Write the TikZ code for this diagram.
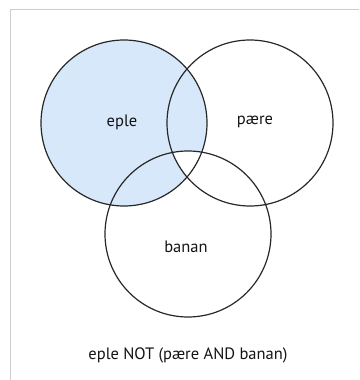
\documentclass[tikz,border=0pt]{standalone}
\usepackage{fontspec}
\setmainfont{PT Sans}
\usepackage{xcolor}
\definecolor{eplefarge}{RGB}{214,232,250}
\definecolor{strek}{RGB}{40,40,40}
\definecolor{skrift}{RGB}{20,20,20}
\definecolor{ramme}{RGB}{205,205,205}

\begin{document}
\begin{tikzpicture}[x=1pt, y=-1pt,
  mengde/.style={draw=strek, line width=1.2pt},
  etikett/.style={text=skrift, font=\fontsize{16.5}{19}\selectfont}]

\useasboundingbox (0,0) rectangle (359,380);

% ramme
\draw[ramme, line width=1pt] (10.5,380) -- (10.5,9.5) -- (359,9.5);

% eple uten (pære og banan)
\fill[eplefarge] (124,123) circle (83pt);
\begin{scope}
  \clip (250,123) circle (83pt);
  \clip (188,234) circle (83pt);
  \fill[white] (124,123) circle (83pt);
\end{scope}

% sirkler
\draw[mengde] (124,123) circle (83pt);
\draw[mengde] (250,123) circle (83pt);
\draw[mengde] (188,234) circle (83pt);

\node[etikett] (eple) at (122,122) {eple};
\node[etikett] (paere) at (255,122) {pære};
\node[etikett] (banan) at (186,247) {banan};

% uttrykk
\node[etikett] (uttrykk) at (188,355) {eple NOT (pære AND banan)};

\end{tikzpicture}
\end{document}
